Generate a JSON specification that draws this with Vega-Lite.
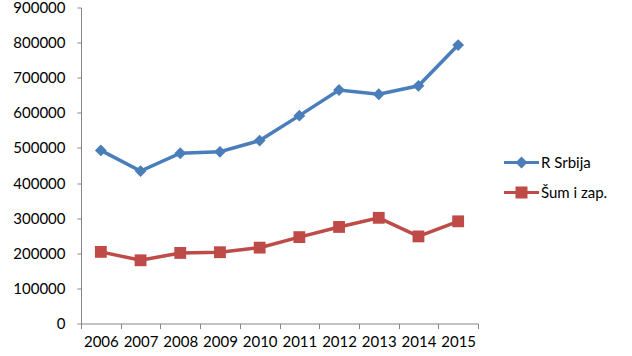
{
  "$schema": "https://vega.github.io/schema/vega-lite/v6.json",
  "width": 397,
  "height": 316,
  "autosize": "none",
  "padding": {"left": 81, "top": 7.5, "right": 154, "bottom": 32.5},
  "background": "white",
  "config": {"view": {"stroke": null}, "font": "Lato"},
  "data": {
    "values": [
      {"year": "2006", "series": "R Srbija", "value": 493000},
      {"year": "2007", "series": "R Srbija", "value": 434000},
      {"year": "2008", "series": "R Srbija", "value": 485000},
      {"year": "2009", "series": "R Srbija", "value": 489000},
      {"year": "2010", "series": "R Srbija", "value": 521000},
      {"year": "2011", "series": "R Srbija", "value": 592000},
      {"year": "2012", "series": "R Srbija", "value": 665000},
      {"year": "2013", "series": "R Srbija", "value": 653000},
      {"year": "2014", "series": "R Srbija", "value": 677000},
      {"year": "2015", "series": "R Srbija", "value": 793000},
      {"year": "2006", "series": "Šum i zap.", "value": 204000},
      {"year": "2007", "series": "Šum i zap.", "value": 180000},
      {"year": "2008", "series": "Šum i zap.", "value": 201000},
      {"year": "2009", "series": "Šum i zap.", "value": 203000},
      {"year": "2010", "series": "Šum i zap.", "value": 216000},
      {"year": "2011", "series": "Šum i zap.", "value": 246000},
      {"year": "2012", "series": "Šum i zap.", "value": 275000},
      {"year": "2013", "series": "Šum i zap.", "value": 301000},
      {"year": "2014", "series": "Šum i zap.", "value": 248000},
      {"year": "2015", "series": "Šum i zap.", "value": 291000}
    ]
  },
  "encoding": {
    "x": {
      "field": "year",
      "type": "ordinal",
      "bandPosition": 0.5,
      "scale": {"type": "band", "paddingInner": 0, "paddingOuter": 0},
      "axis": {
        "title": null,
        "labelAngle": 0,
        "tickBand": "extent",
        "tickSize": 5,
        "domainColor": "#868686",
        "tickColor": "#868686",
        "labelFontSize": 15,
        "labelFont": "Lato",
        "labelColor": "#000000",
        "labelPadding": 6,
        "grid": false
      }
    },
    "y": {
      "field": "value",
      "type": "quantitative",
      "scale": {"domain": [0, 900000], "nice": false},
      "axis": {
        "title": null,
        "values": [0, 100000, 200000, 300000, 400000, 500000, 600000, 700000, 800000, 900000],
        "format": "d",
        "grid": false,
        "tickSize": 4,
        "domainColor": "#868686",
        "tickColor": "#868686",
        "labelFontSize": 15,
        "labelFont": "Lato",
        "labelColor": "#000000",
        "labelPadding": 12
      }
    },
    "color": {
      "field": "series",
      "type": "nominal",
      "scale": {"domain": ["R Srbija", "Šum i zap."], "range": ["#4a7ebb", "#be4b48"]},
      "legend": {
        "orient": "none",
        "legendX": 430.5,
        "legendY": 145,
        "title": null,
        "padding": 0,
        "symbolSize": 400,
        "symbolStrokeWidth": 0,
        "labelFontSize": 15,
        "labelFont": "Lato",
        "labelColor": "#000000",
        "labelOffset": 9.5,
        "rowPadding": 12,
        "encode": {
          "symbols": {
            "update": {
              "shape": {"signal": "datum.value === 'R Srbija' ? 'M-1.75,-0.15L-0.45,-0.15L0,-0.6L0.45,-0.15L1.75,-0.15L1.75,0.15L0.45,0.15L0,0.6L-0.45,0.15L-1.75,0.15Z' : 'M-1.75,-0.15L-0.6,-0.15L-0.6,-0.6L0.6,-0.6L0.6,-0.15L1.75,-0.15L1.75,0.15L0.6,0.15L0.6,0.6L-0.6,0.6L-0.6,0.15L-1.75,0.15Z'"},
              "fill": {"signal": "scale('color', datum.value)"},
              "opacity": {"value": 1},
              "strokeWidth": {"value": 0}
            }
          }
        }
      }
    }
  },
  "layer": [
    {"mark": {"type": "line", "strokeWidth": 3.5}},
    {
      "transform": [{"filter": "datum.series === 'R Srbija'"}],
      "mark": {"type": "point", "filled": true, "opacity": 1, "shape": "diamond", "size": 140}
    },
    {
      "transform": [{"filter": "datum.series === 'Šum i zap.'"}],
      "mark": {"type": "point", "filled": true, "opacity": 1, "shape": "square", "size": 140}
    }
  ]
}
